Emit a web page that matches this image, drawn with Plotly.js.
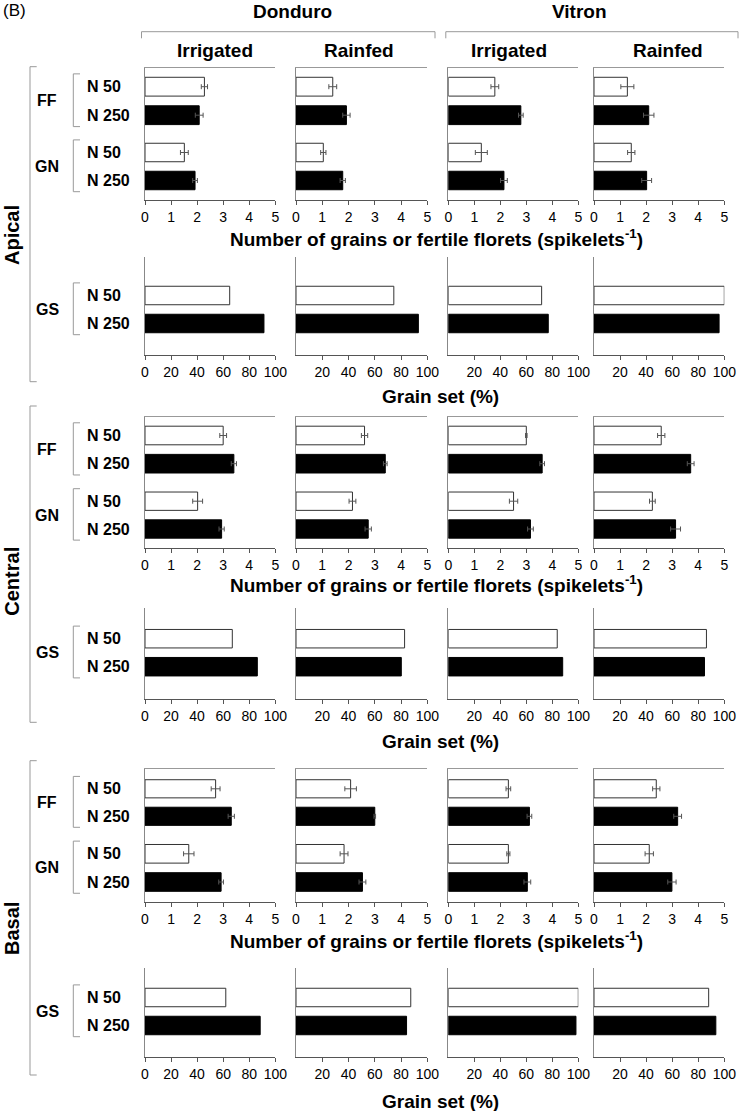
<!DOCTYPE html>
<html>
<head>
<meta charset="utf-8">
<script src="https://cdn.plot.ly/plotly-3.0.1.min.js"></script>
<style>
body{margin:0;background:#fff}
#plot{width:740px;height:1111px}
</style>
</head>
<body>
<div id="plot"></div>
<script>

const sections = ["Apical","Central","Basal"]
const groups = ["FF","GN","GS"]
const levels = ["N 50","N 250"]
const cultivars = ["Donduro","Vitron"]
const treatments = ["Irrigated","Rainfed","Irrigated","Rainfed"]

const countTicks = [0,1,2,3,4,5]
const gsTicksFirst = [0,20,40,60,80,100]
const gsTicks = [20,40,60,80,100]

const countTitle = "Number of grains or fertile florets (spikelets<sup>-1</sup>)"
const gsTitle = "Grain set (%)"

// columns: Donduro irrigated, Donduro rainfed, Vitron irrigated, Vitron rainfed
const apicalFF50 = [2.28,1.40,1.79,1.28]
const apicalFF50err = [0.12,0.15,0.15,0.25]
const apicalFF250 = [2.08,1.92,2.79,2.10]
const apicalFF250err = [0.15,0.14,0.09,0.20]
const apicalGN50 = [1.51,1.04,1.27,1.43]
const apicalGN50err = [0.15,0.10,0.23,0.14]
const apicalGN250 = [1.92,1.78,2.14,2.02]
const apicalGN250err = [0.09,0.10,0.13,0.19]
const apicalGS50 = [65,74.5,71.8,100]
const apicalGS250 = [91.3,93.2,76.9,96]

const centralFF50 = [3.00,2.61,3.00,2.58]
const centralFF50err = [0.13,0.12,0.03,0.14]
const centralFF250 = [3.41,3.40,3.61,3.71]
const centralFF250err = [0.10,0.07,0.09,0.13]
const centralGN50 = [2.02,2.15,2.51,2.24]
const centralGN50err = [0.19,0.13,0.16,0.11]
const centralGN250 = [2.94,2.75,3.16,3.13]
const centralGN250err = [0.10,0.12,0.11,0.19]
const centralGS50 = [67,82.7,83.8,86.3]
const centralGS250 = [86.2,80.2,88,84.8]

const basalFF50 = [2.71,2.08,2.31,2.39]
const basalFF50err = [0.17,0.22,0.09,0.14]
const basalFF250 = [3.31,3.00,3.12,3.21]
const basalFF250err = [0.12,0.03,0.09,0.15]
const basalGN50 = [1.68,1.83,2.31,2.12]
const basalGN50err = [0.20,0.15,0.06,0.16]
const basalGN250 = [2.92,2.53,3.04,2.99]
const basalGN250err = [0.09,0.13,0.13,0.16]
const basalGS50 = [62,87.4,100,88]
const basalGS250 = [88.4,84.2,98.2,93.5]

const table = {
Apical:{
FF:{vals:[apicalFF50,apicalFF250],errs:[apicalFF50err,apicalFF250err]},
GN:{vals:[apicalGN50,apicalGN250],errs:[apicalGN50err,apicalGN250err]},
GS:{vals:[apicalGS50,apicalGS250],errs:null}
},
Central:{
FF:{vals:[centralFF50,centralFF250],errs:[centralFF50err,centralFF250err]},
GN:{vals:[centralGN50,centralGN250],errs:[centralGN50err,centralGN250err]},
GS:{vals:[centralGS50,centralGS250],errs:null}
},
Basal:{
FF:{vals:[basalFF50,basalFF250],errs:[basalFF50err,basalFF250err]},
GN:{vals:[basalGN50,basalGN250],errs:[basalGN50err,basalGN250err]},
GS:{vals:[basalGS50,basalGS250],errs:null}
}
}

// layout in pixels
const W = 740, H = 1111
const px = x => x/W
const py = y => 1 - y/H

const colX = [[145,275.3],[296,427.3],[448.3,578.3],[594,724.3]]

// top, bottom, first bar centre, bar spacing
const boxes = [
[{top:68.3,bot:134,c0:86.7,sp:28.5},{top:134,bot:199.7,c0:152.5,sp:28},{top:256.7,bot:355,c0:295.5,sp:28}],
[{top:416.7,bot:482.5,c0:435.5,sp:28.2},{top:482.5,bot:548,c0:501.2,sp:27.8},{top:608.3,bot:699,c0:638.7,sp:28}],
[{top:769.3,bot:835,c0:788.8,sp:27.5},{top:835,bot:902.3,c0:853.8,sp:28.2},{top:968.3,bot:1057.3,c0:997.5,sp:28}]
]

const sectionBracket = [[66.7,381.7],[406,722.3],[760.7,1075]]
const sectionLabelY = [235,581.7,929]
const countTitleY = [238,584.3,940]
const gsTitleY = [396.7,741.7,1101.7]

const FONT = "Liberation Sans, Arial, sans-serif"
const GRAY = "#999"

const traces = []
const annotations = []
const shapes = []
const layout = {
width:W,
height:H,
margin:{l:0,r:0,t:0,b:0},
showlegend:false,
paper_bgcolor:"#fff",
plot_bgcolor:"#fff",
font:{family:FONT,color:"#000",size:14},
bargap:0
}

function line(x0,y0,x1,y1,xref,yref,color){
shapes.push({type:"line",xref:xref||"paper",yref:yref||"paper",x0:x0,y0:y0,x1:x1,y1:y1,line:{color:color||GRAY,width:1}})
}

let k = 0
sections.forEach((sec,si)=>{
groups.forEach((g,gi)=>{
const box = boxes[si][gi]
const r0 = -(box.c0-box.top)/box.sp
const r1 = 1 + (box.bot-(box.c0+box.sp))/box.sp
const entry = table[sec][g]
for(let c=0;c<4;c++){
k++
const xa = k===1 ? "x" : "x"+k
const ya = k===1 ? "y" : "y"+k
const xname = k===1 ? "xaxis" : "xaxis"+k
const yname = k===1 ? "yaxis" : "yaxis"+k

levels.forEach((lv,li)=>{
traces.push({
type:"bar",
orientation:"h",
x:[entry.vals[li][c]],
y:[lv],
xaxis:xa,
yaxis:ya,
width:0.66,
marker:{color:li ? "#000" : "#fff",line:{color:li ? "#000" : "#333",width:1}},
error_x:entry.errs ? {type:"data",array:[entry.errs[li][c]],color:"#555",thickness:1,width:2.5} : {visible:false},
hoverinfo:"skip"
})
})

const xaxis = {
domain:[px(colX[c][0]),px(colX[c][1])],
anchor:ya,
range:g==="GS" ? [0,100] : [0,5],
showgrid:false,
zeroline:false,
showline:true,
fixedrange:true
}
if(g==="FF"){
xaxis.side = "top"
xaxis.linecolor = GRAY
xaxis.ticks = ""
xaxis.showticklabels = false
}else{
xaxis.linecolor = "#555"
xaxis.ticks = "outside"
xaxis.ticklen = 4
xaxis.tickcolor = "#555"
xaxis.tickmode = "array"
xaxis.tickvals = g==="GS" ? (c===0 ? gsTicksFirst : gsTicks) : countTicks
xaxis.tickfont = {size:14,family:FONT,color:"#000"}
}
layout[xname] = xaxis

layout[yname] = {
domain:[py(box.bot),py(box.top)],
anchor:xa,
type:"category",
categoryorder:"array",
categoryarray:levels,
range:[r1,r0],
showgrid:false,
zeroline:false,
showline:true,
linecolor:"#888",
ticks:"",
showticklabels:false,
fixedrange:true
}

if(c===0){
levels.forEach((lv,li)=>{
annotations.push({xref:"paper",yref:ya,x:px(85),y:li,text:"<b>"+lv+"</b>",showarrow:false,xanchor:"left",yanchor:"middle",font:{size:16}})
})
annotations.push({xref:"paper",yref:ya,x:px(47),y:0.5,text:"<b>"+g+"</b>",showarrow:false,xanchor:"center",yanchor:"middle",font:{size:16}})
line(px(73.3),-0.45,px(73.3),1.4,"paper",ya)
line(px(73.3),-0.45,px(80),-0.45,"paper",ya)
line(px(73.3),1.4,px(80),1.4,"paper",ya)
}
}
})

const b = sectionBracket[si]
line(px(30),py(b[0]),px(30),py(b[1]))
line(px(30),py(b[0]),px(36.7),py(b[0]))
line(px(30),py(b[1]),px(36.7),py(b[1]))

annotations.push({xref:"paper",yref:"paper",x:px(12),y:py(sectionLabelY[si]),text:"<b>"+sec+"</b>",textangle:-90,showarrow:false,xanchor:"center",yanchor:"middle",borderpad:0,font:{size:20}})
annotations.push({xref:"paper",yref:"paper",x:px(436.5),y:py(countTitleY[si]),text:"<b>"+countTitle+"</b>",showarrow:false,xanchor:"center",yanchor:"middle",font:{size:19}})
annotations.push({xref:"paper",yref:"paper",x:px(440),y:py(gsTitleY[si]),text:"<b>"+gsTitle+"</b>",showarrow:false,xanchor:"center",yanchor:"middle",font:{size:19}})
})

// header
annotations.push({xref:"paper",yref:"paper",x:px(2),y:py(0),text:"(B)",showarrow:false,xanchor:"left",yanchor:"top",borderpad:0,font:{size:17}})
const cultivarX = [292.7,579]
const cultivarSpan = [[141.5,435],[445.8,738]]
cultivars.forEach((cv,i)=>{
annotations.push({xref:"paper",yref:"paper",x:px(cultivarX[i]),y:py(0),text:"<b>"+cv+"</b>",showarrow:false,xanchor:"center",yanchor:"top",borderpad:0,font:{size:19}})
const s = cultivarSpan[i]
line(px(s[0]),py(31.7),px(s[1]),py(31.7))
line(px(s[0]),py(31.7),px(s[0]),py(38.3))
line(px(s[1]),py(31.7),px(s[1]),py(38.3))
})
const treatmentX = [215,358.5,509.4,668]
treatments.forEach((t,i)=>{
annotations.push({xref:"paper",yref:"paper",x:px(treatmentX[i]),y:py(50),text:"<b>"+t+"</b>",showarrow:false,xanchor:"center",yanchor:"middle",font:{size:19}})
})

layout.annotations = annotations
layout.shapes = shapes

Plotly.newPlot("plot",traces,layout,{staticPlot:true,displayModeBar:false})

</script>
</body>
</html>
